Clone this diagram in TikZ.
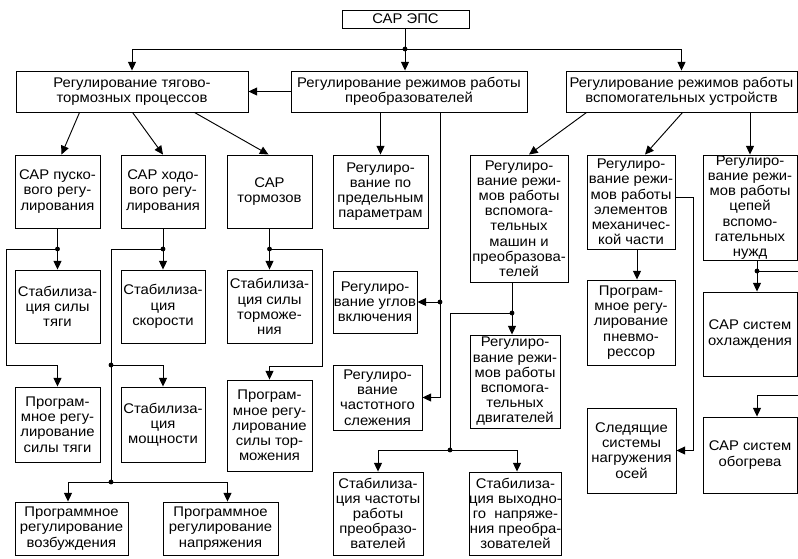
\documentclass[tikz,border=0pt]{standalone}
\usepackage{fontspec}
\setmainfont[FakeStretch=1.06]{Liberation Sans}
\usetikzlibrary{arrows.meta,calc}
\newcommand\mybox[6]{\node[box, minimum width={(#4-#2)*0.75pt}, minimum height={(#5-#3)*0.75pt}] (#1) at ({(#2+#4)/2},{(#3+#5)/2}) {#6};}
\begin{document}
\begin{tikzpicture}[x=0.75pt,y=-0.75pt,
  line width=0.7pt,
  >={Triangle[length=6.5pt,width=6pt]},
  box/.style={draw, align=center, inner sep=0pt, font=\fontsize{10.5pt}{11.4pt}\selectfont},
  dot/.style={circle, fill, inner sep=0pt, minimum size=3.6pt}]
\useasboundingbox (0,0) rectangle (798,558);
% boxes
\mybox{top}{342}{10}{469}{28}{САР ЭПС}
\mybox{A}{16}{71}{248}{112}{Регулирование тягово-\\тормозных процессов}
\mybox{B}{291}{71}{527}{112}{Регулирование режимов работы\\преобразователей}
\mybox{C}{566}{71}{797}{112}{Регулирование режимов работы\\вспомогательных устройств}
\mybox{p1}{15}{155}{100}{228}{САР пуско-\\вого регу-\\лирования}
\mybox{p2}{121}{155}{205}{228}{САР ходо-\\вого регу-\\лирования}
\mybox{p3}{227}{155}{312}{228}{САР\\тормозов}
\mybox{p4}{333}{155}{428}{228}{Регулиро-\\вание по\\предельным\\параметрам}
\mybox{m1}{470}{155}{568}{282}{Регулиро-\\вание режи-\\мов работы\\вспомога-\\тельных\\машин и\\преобразова-\\телей}
\mybox{e1}{587}{155}{675}{249}{Регулиро-\\вание режи-\\мов работы\\элементов\\механичес-\\кой части}
\mybox{c1}{703}{155}{797}{260}{Регулиро-\\вание режи-\\мов работы\\цепей\\вспомо-\\гательных\\нужд}
\mybox{s1}{15}{270}{100}{343}{Стабилиза-\\ция силы\\тяги}
\mybox{s2}{121}{270}{205}{343}{Стабилиза-\\ция\\скорости}
\mybox{s3}{227}{270}{312}{343}{Стабилиза-\\ция силы\\торможе-\\ния}
\mybox{u1}{333}{271}{417}{333}{Регулиро-\\вание углов\\включения}
\mybox{d1}{470}{335}{560}{428}{Регулиро-\\вание режи-\\мов работы\\вспомога-\\тельных\\двигателей}
\mybox{pn}{587}{280}{675}{365}{Програм-\\мное регу-\\лирование\\пневмо-\\рессор}
\mybox{ox}{703}{292}{797}{376}{САР систем\\охлаждения}
\mybox{g1}{15}{387}{100}{462}{Програм-\\мное регу-\\лирование\\силы тяги}
\mybox{g2}{121}{387}{205}{462}{Стабилиза-\\ция\\мощности}
\mybox{g3}{227}{380}{312}{471}{Програм-\\мное регу-\\лирование\\силы тор-\\можения}
\mybox{f1}{333}{365}{422}{430}{Регулиро-\\вание\\частотного\\слежения}
\mybox{sl}{587}{408}{676}{493}{Следящие\\системы\\нагружения\\осей}
\mybox{ob}{703}{417}{797}{493}{САР систем\\обогрева}
\mybox{b1}{15}{502}{128}{555}{Программное\\регулирование\\возбуждения}
\mybox{b2}{163}{502}{278}{555}{Программное\\регулирование\\напряжения}
\mybox{t1}{333}{472}{423}{555}{Стабилиза-\\ция частоты\\работы\\преобразо-\\вателей}
\mybox{t2}{470}{472}{561}{555}{Стабилиза-\\ция выходно-\\го~ напряже-\\ния преобра-\\зователей}
% junction coordinates
\coordinate (j0) at (405,49);
\coordinate (jb) at (440,302);
\coordinate (ja) at (57.5,249);
\coordinate (ka) at (6,365);
\coordinate (jb2) at (163,249);
\coordinate (kb1) at (111,365);
\coordinate (kb2) at (111,482);
\coordinate (jc) at (269.5,249);
\coordinate (kc) at (322,366);
\coordinate (jm) at (512,313);
\coordinate (km) at (450,450);
\coordinate (ke) at (693,197);
\coordinate (jc1) at (757,271);
\coordinate (kr) at (806,395);
\coordinate (ko) at (757,395);
% connectors
\draw (j0 |- top.south) -- (j0);
\draw[->] (j0) -- (j0 |- B.north);
\draw[->] (j0) -| (A.north);
\draw[->] (j0) -| (C.north);
\draw[->] (B.west) -- (A.east);
\draw[->] ($(A.south west)+(64,0)$) -- ($(p1.north)+(4,0)$);
\draw[->] ($(A.south west)+(117,0)$) -- (p2.north);
\draw[->] ($(A.south west)+(179,0)$) -- ($(p3.north)+(-1,0)$);
\draw[->] (B.south -| p4.north) -- (p4.north);
\draw[->] (B.south -| jb) |- (f1.east);
\draw[->] (jb) -- (u1.east);
\draw[->] ($(C.south west)+(21,0)$) -- ($(m1.north)+(10,0)$);
\draw[->] ($(C.south west)+(117,0)$) -- ($(e1.north)+(14,0)$);
\draw[->] (C.south -| c1.north) -- (c1.north);
% left columns
\draw[->] (p1.south) -- (s1.north);
\draw[->] (ja) -| (ka) -| (g1.north);
\draw[->] (p2.south) -- (s2.north);
\draw (jb2) -| (kb2);
\draw[->] (kb1) -| (g2.north);
\draw[->] (kb2) -| ($(b1.north)+(-3.5,0)$);
\draw[->] (kb2) -| ($(b2.north)+(7,0)$);
\draw[->] (p3.south) -- (s3.north);
\draw[->] (jc) -| (kc) -| (g3.north);
% middle right
\draw[->] (m1.south -| jm) -- (jm |- d1.north);
\draw (jm) -| (km);
\draw[->] (km) -| (t1.north);
\draw[->] (km) -| ($(t2.north)+(1.5,0)$);
\draw[->] ($(e1.south)+(6,0)$) -- ($(pn.north)+(6,0)$);
\draw[->] (e1.east |- ke) -- (ke) |- (sl.east);
\draw (c1.south -| jc1) -- (jc1);
\draw[->] (jc1) -- (jc1 |- ox.north);
\draw[->] (jc1) -| (kr) -- (ko) -- (ko |- ob.north);
% dots
\foreach \p in {j0,jb,ja,jb2,kb1,kb2,jc,jm,km,jc1} \node[dot] at (\p) {};
\end{tikzpicture}
\end{document}
